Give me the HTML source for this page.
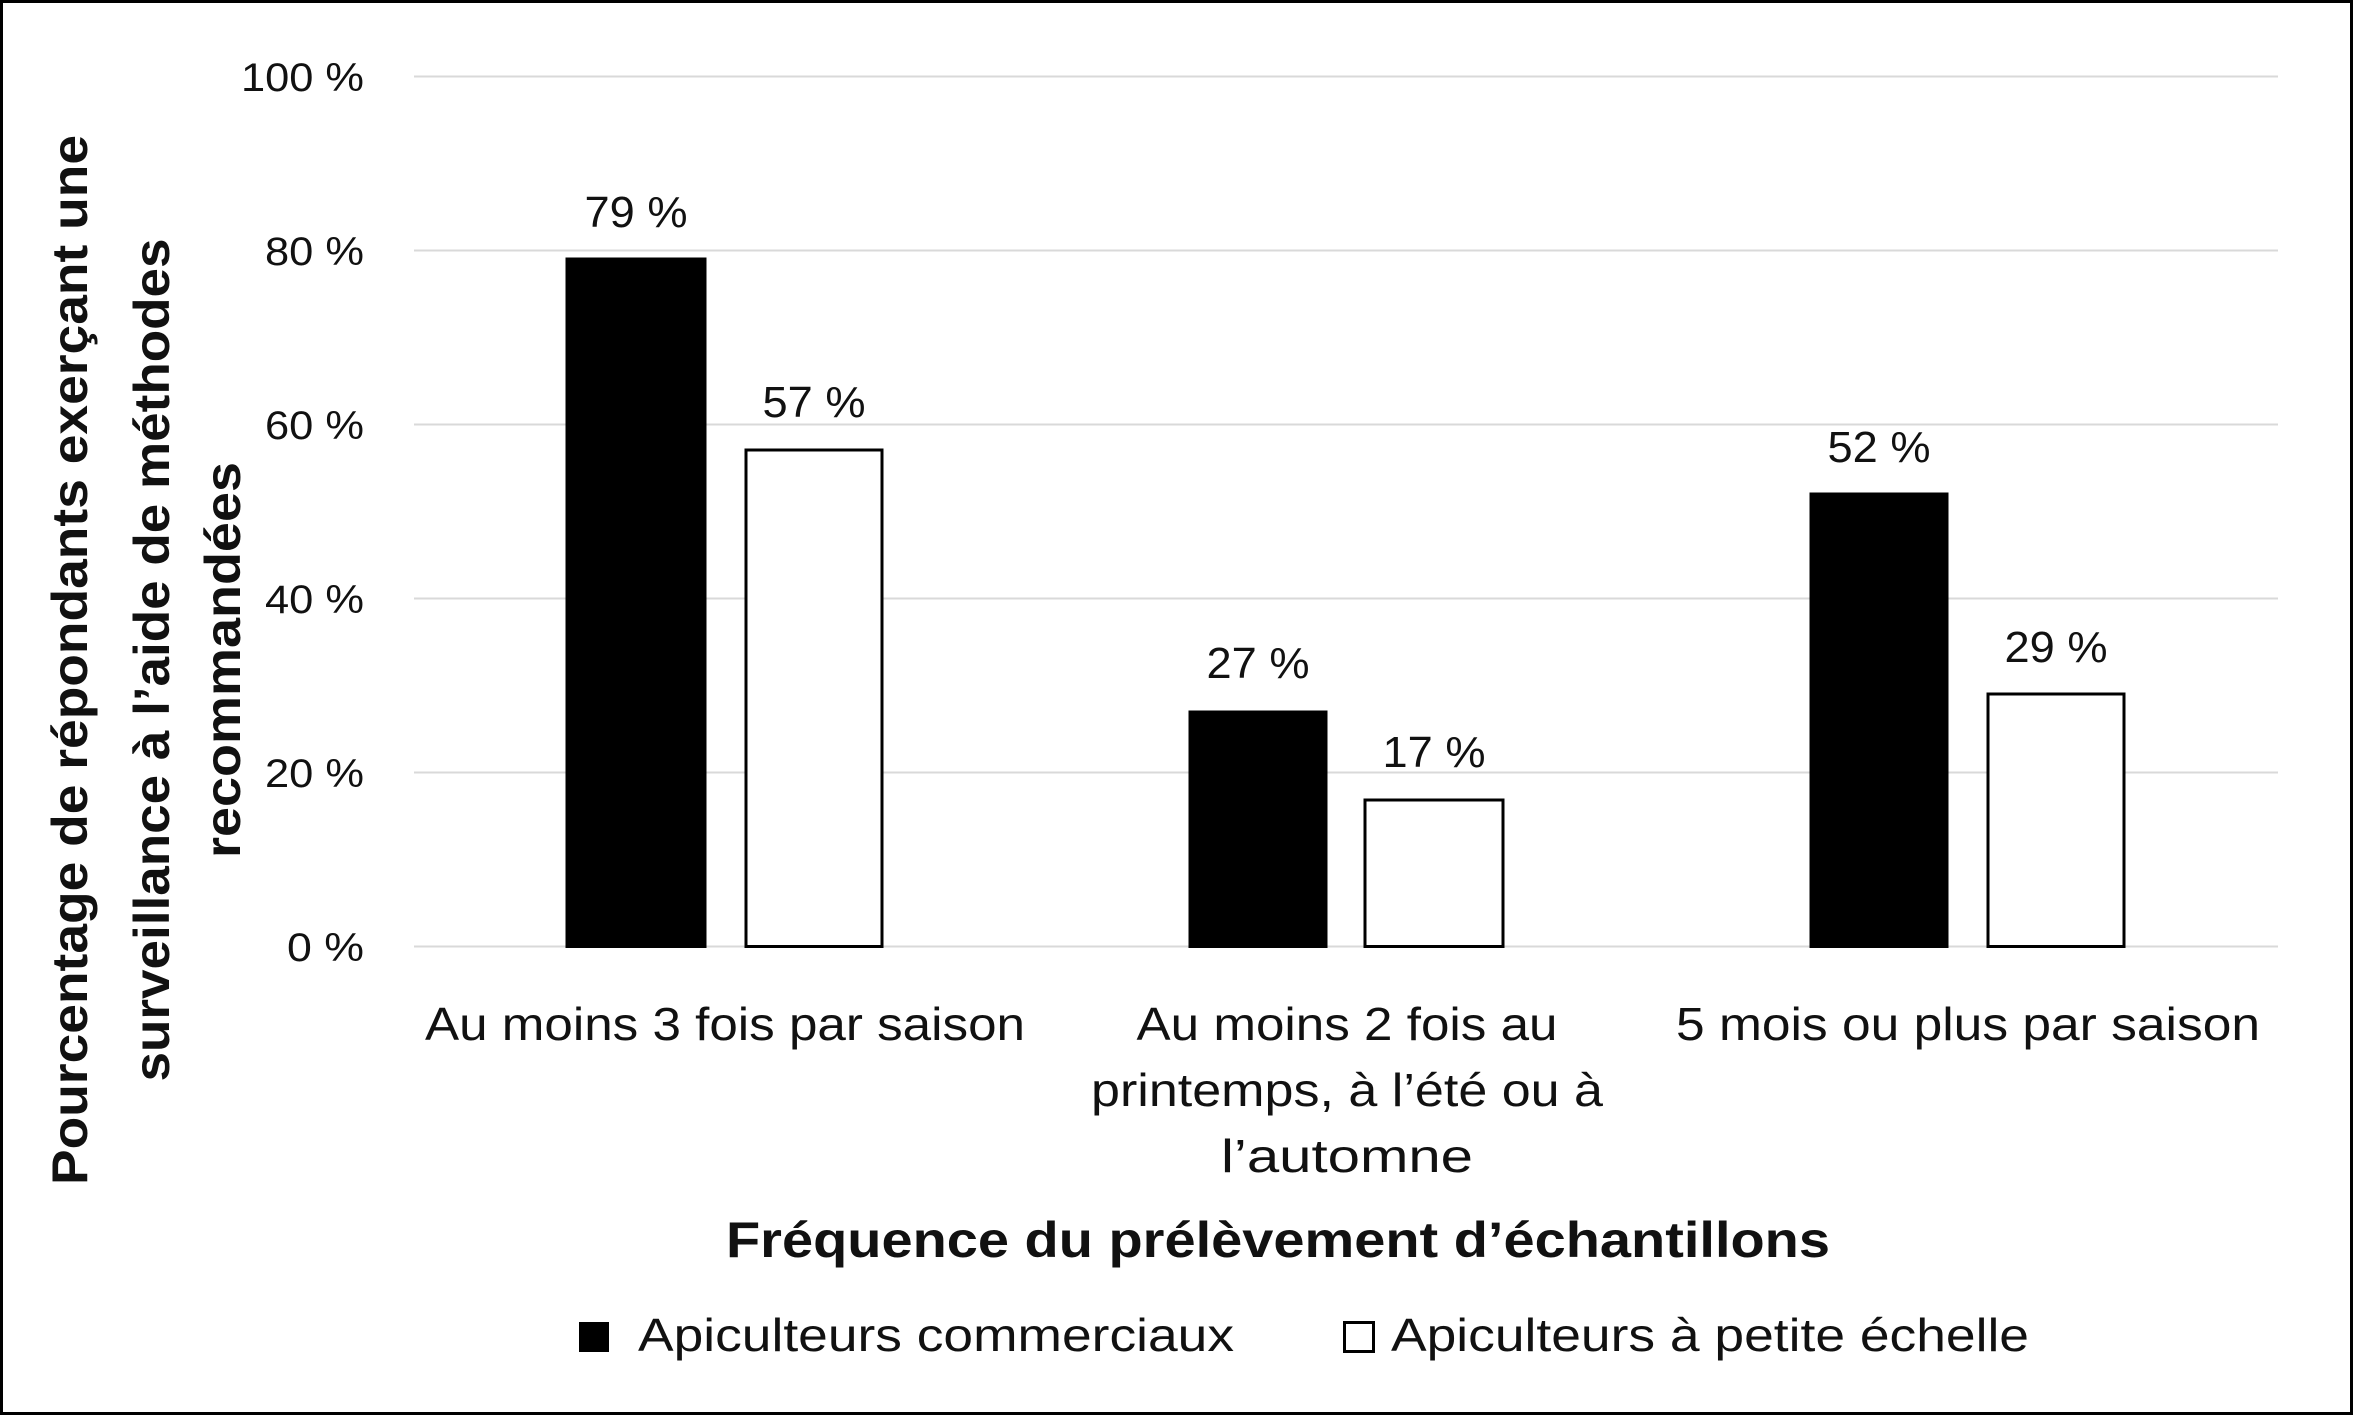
<!DOCTYPE html>
<html><head><meta charset="utf-8"><style>
html,body{margin:0;padding:0;background:#fff}
svg{display:block}
text{font-family:"Liberation Sans",sans-serif;fill:#111}
</style></head><body>
<svg width="2353" height="1415" viewBox="0 0 2353 1415" xmlns="http://www.w3.org/2000/svg">
<rect x="1.5" y="1.5" width="2350" height="1412" fill="#fff" stroke="#000" stroke-width="3"/>
<g stroke="#d9d9d9" stroke-width="2">
<line x1="414" x2="2278" y1="76.5" y2="76.5"/>
<line x1="414" x2="2278" y1="250.5" y2="250.5"/>
<line x1="414" x2="2278" y1="424.5" y2="424.5"/>
<line x1="414" x2="2278" y1="598.5" y2="598.5"/>
<line x1="414" x2="2278" y1="772.5" y2="772.5"/>
<line x1="414" x2="2278" y1="946.5" y2="946.5"/>
</g>
<g font-size="40" text-anchor="end" lengthAdjust="spacingAndGlyphs">
<text x="364" y="91" textLength="123" lengthAdjust="spacingAndGlyphs">100 %</text>
<text x="364" y="265" textLength="99" lengthAdjust="spacingAndGlyphs">80 %</text>
<text x="364" y="439" textLength="99" lengthAdjust="spacingAndGlyphs">60 %</text>
<text x="364" y="613" textLength="99" lengthAdjust="spacingAndGlyphs">40 %</text>
<text x="364" y="787" textLength="99" lengthAdjust="spacingAndGlyphs">20 %</text>
<text x="364" y="961" textLength="77" lengthAdjust="spacingAndGlyphs">0 %</text>
</g>
<g stroke="#000" stroke-width="3">
<rect x="567" y="259" width="138" height="687.5" fill="#000"/>
<rect x="746" y="450" width="136" height="496.5" fill="#fff"/>
<rect x="1190" y="712" width="136" height="234.5" fill="#000"/>
<rect x="1365" y="800" width="138" height="146.5" fill="#fff"/>
<rect x="1811" y="494" width="136" height="452.5" fill="#000"/>
<rect x="1988" y="694" width="136" height="252.5" fill="#fff"/>
</g>
<g font-size="44" text-anchor="middle">
<text x="636" y="227" textLength="103" lengthAdjust="spacingAndGlyphs">79 %</text>
<text x="814" y="417" textLength="103" lengthAdjust="spacingAndGlyphs">57 %</text>
<text x="1258" y="678" textLength="103" lengthAdjust="spacingAndGlyphs">27 %</text>
<text x="1434" y="767" textLength="103" lengthAdjust="spacingAndGlyphs">17 %</text>
<text x="1879" y="462" textLength="103" lengthAdjust="spacingAndGlyphs">52 %</text>
<text x="2056" y="662" textLength="103" lengthAdjust="spacingAndGlyphs">29 %</text>
</g>
<g font-size="46" text-anchor="middle">
<text x="725" y="1040" textLength="600" lengthAdjust="spacingAndGlyphs">Au moins 3 fois par saison</text>
<text x="1347" y="1040" textLength="421" lengthAdjust="spacingAndGlyphs">Au moins 2 fois au</text>
<text x="1347" y="1106" textLength="512" lengthAdjust="spacingAndGlyphs">printemps, à l’été ou à</text>
<text x="1347" y="1172" textLength="252" lengthAdjust="spacingAndGlyphs">l’automne</text>
<text x="1968" y="1040" textLength="584" lengthAdjust="spacingAndGlyphs">5 mois ou plus par saison</text>
</g>
<text x="1278" y="1257" font-size="50" font-weight="bold" text-anchor="middle" textLength="1104" lengthAdjust="spacingAndGlyphs">Fréquence du prélèvement d’échantillons</text>
<g font-size="50" font-weight="bold" text-anchor="middle" transform="translate(0,660) rotate(-90)">
<text x="0" y="87" textLength="1050" lengthAdjust="spacingAndGlyphs">Pourcentage de répondants exerçant une</text>
<text x="0" y="169" textLength="843" lengthAdjust="spacingAndGlyphs">surveillance à l’aide de méthodes</text>
<text x="0" y="240" textLength="396" lengthAdjust="spacingAndGlyphs">recommandées</text>
</g>
<rect x="579" y="1322" width="30" height="30" fill="#000"/>
<text x="638" y="1351" font-size="46" textLength="596" lengthAdjust="spacingAndGlyphs">Apiculteurs commerciaux</text>
<rect x="1344.5" y="1322.5" width="29" height="29" fill="#fff" stroke="#000" stroke-width="3"/>
<text x="1391" y="1351" font-size="46" textLength="638" lengthAdjust="spacingAndGlyphs">Apiculteurs à petite échelle</text>
</svg>
</body></html>
